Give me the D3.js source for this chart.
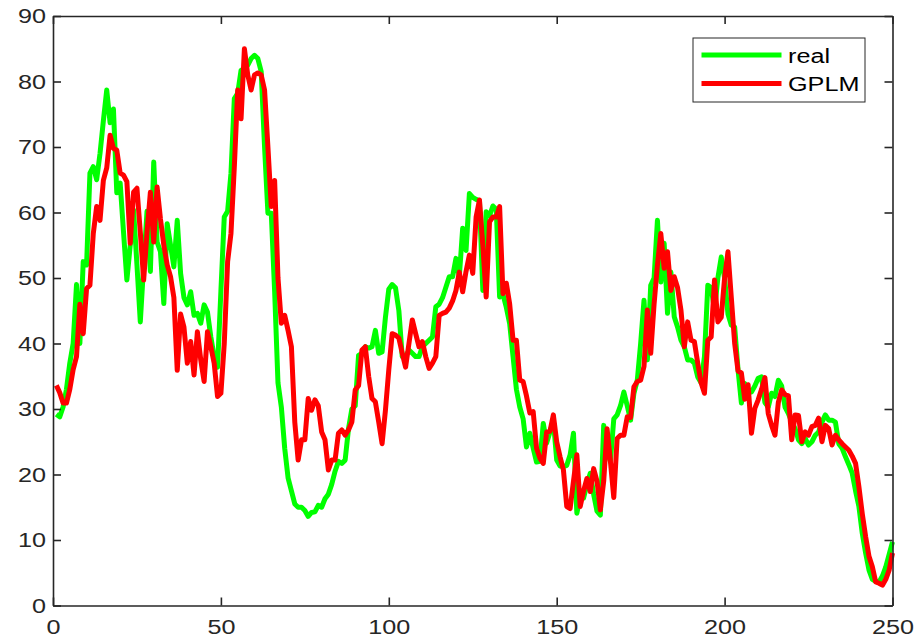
<!DOCTYPE html>
<html>
<head>
<meta charset="utf-8">
<script src="https://cdn.jsdelivr.net/npm/d3@7"></script>
<style>
  html, body { margin: 0; padding: 0; background: #ffffff; }
  svg { display: block; }
</style>
</head>
<body>
<svg id="chart" width="919" height="644"></svg>
<script>
// Sample index (1..250)
const sampleIndex = d3.range(1, 251);

// Observed series
const realValues = [
  29.2, 28.8, 30.3, 33, 37, 40, 49, 40, 52.5, 52,
  66, 67, 65, 69, 74, 78.7, 73.7, 75.8, 63, 64.5,
  57, 49.7, 55, 60.4, 52, 43.3, 52, 60.2, 51, 67.7,
  55.5, 54, 46.1, 58.3, 55, 51.7, 58.8, 50.7, 47, 45.9,
  47.9, 44.3, 44.6, 43.1, 45.9, 44.8, 41, 38, 36.4, 48,
  59.3, 60.2, 66, 77.4, 78.2, 81.7, 82, 82.5, 83.5, 84,
  83.5, 81.5, 70, 59.9, 59.9, 48, 34, 30.3, 24, 19.5,
  17.5, 15.5, 15, 15, 14.5, 13.6, 14.2, 14.3, 15.3, 15,
  16.3, 17, 18.5, 20.5, 22, 21.7, 22.2, 27, 30, 30.5,
  38.2, 38.5, 39.5, 39.3, 39.5, 42, 38.5, 38.7, 44, 48.3,
  49, 48.5, 45, 38, 38, 39, 38.5, 38, 38, 39.5,
  40, 40.5, 41, 45.6, 46, 47, 48.6, 50.2, 50.2, 53,
  50.2, 57.6, 54.2, 62.9, 62.3, 62, 61.8, 48.1, 60.1, 59.5,
  61, 60.5, 47.1, 47.5, 45.5, 43, 38, 33, 30.3, 28.5,
  24.2, 26.3, 24, 21.9, 22, 27.8, 24.8, 26.5, 28.3, 22.2,
  21.3, 21.2, 21.4, 23, 26.3, 14.1, 16.5, 16.4, 18.5, 20.2,
  17, 14.4, 13.8, 27.5, 24, 22, 28.5, 29.1, 30.5, 32.6,
  30.5, 28.3, 32.4, 34.4, 40, 46.6, 37.5, 48.9, 50, 58.8,
  49.4, 55.3, 44.6, 50.9, 44.1, 42.5, 40.5, 39.5, 37.5, 37.5,
  37, 34.9, 34, 38, 48.9, 48.5, 45.1, 50, 53.2, 50,
  44.5, 42.8, 42.5, 36, 30.9, 33.9, 33, 32.6, 33.5, 34.7,
  34.9, 31, 30.3, 32.4, 31.9, 34.4, 33.5, 30.3, 29.3, 28,
  27, 25.3, 24.7, 25.5, 24.5, 25, 26, 26.5, 28, 29.1,
  28.3, 28.3, 28, 24.7, 24, 22.7, 21.5, 20.2, 17.5, 15.1,
  11, 8, 5.4, 4, 3.7, 3.6, 4.5, 5.9, 7.8, 9.7
];

// Model output
const gplmValues = [
  33.6, 32.5, 30.9, 30.9, 33, 36, 38, 46, 41.5, 48.4,
  48.9, 56.8, 60.9, 58.8, 64.9, 66.8, 71.8, 69.8, 69.5, 66,
  65.7, 64.7, 55.3, 63.1, 63.7, 57, 49.7, 57, 63.1, 55.5,
  63.9, 59, 55, 52, 50.2, 47, 35.9, 44.5, 42.5, 37,
  40.3, 35.2, 41.8, 37.5, 34.2, 41.8, 39.5, 37, 31.9, 32.4,
  40, 52.5, 56.8, 67, 78.7, 74.3, 85, 81, 78.7, 81,
  81.3, 81, 78.7, 70, 60.9, 64.9, 50, 43.1, 44.3, 42,
  39.5, 28, 22.2, 25.3, 25.3, 31.6, 29.8, 31.4, 30.5, 26.5,
  25.3, 20.7, 22.2, 22.2, 26.3, 26.8, 26, 26.8, 28, 32.9,
  33.6, 39, 39.5, 35, 31.6, 31.1, 28, 24.7, 29.8, 36,
  41.5, 41.3, 40.8, 38.5, 36.4, 40, 43.6, 41.5, 39.5, 40.3,
  38, 36.2, 37, 38, 44.3, 44.6, 44.8, 45.4, 46.5, 48.1,
  50.9, 47.9, 51, 53.5, 50.7, 59.3, 61.9, 55, 47.1, 58.6,
  59.3, 59.3, 60.9, 47.6, 49.2, 46, 40.5, 40.5, 34.4, 34.2,
  32, 29.4, 29.6, 24, 22.5, 21.7, 26.5, 26.6, 29.1, 25,
  22.7, 20.7, 15.1, 14.8, 19, 23, 15.1, 17.5, 19.4, 17.4,
  20.9, 19, 14.6, 19, 27, 22, 16.5, 25.5, 26, 26,
  28.8, 28.7, 33.4, 34.2, 34.4, 36.5, 45.1, 38.5, 46, 52,
  56.8, 51.5, 54, 48.1, 50.2, 48.5, 45.1, 39.5, 43.3, 40.5,
  40.3, 37, 34, 32.4, 40.5, 41, 49.7, 43.3, 44, 50,
  54, 47, 40, 35.8, 35.5, 31.5, 33.7, 26.3, 30.1, 31.4,
  33, 34.8, 29.3, 27.5, 26, 31, 32.9, 32.2, 32, 25.3,
  29.1, 29, 25, 26.5, 26, 27.3, 27.5, 28.6, 25, 27.5,
  27, 24.5, 26, 25.3, 24.7, 24.2, 23.7, 22.8, 21.7, 18.1,
  14, 10.5, 7.5, 5.9, 3.6, 3.4, 3.1, 4, 5.4, 8
];

const xTickValues = [0, 50, 100, 150, 200, 250];
const yTickValues = [0, 10, 20, 30, 40, 50, 60, 70, 80, 90];

const seriesNames = ["real", "GPLM"];
const seriesColors = ["#00ff00", "#ff0000"];

const svg = d3.select("#chart");
const margin = { left: 53, top: 16, right: 26.5, bottom: 38.5 };
const W = 919 - margin.left - margin.right;
const H = 644 - margin.top - margin.bottom;
const axisColor = "#262626";
const fontFamily = '"Liberation Sans", Arial, Helvetica, sans-serif';
const textWiden = 1.2; // labels are set slightly wide

const xScale = d3.scaleLinear().domain([0, 250]).range([0, W]);
const yScale = d3.scaleLinear().domain([0, 90]).range([H, 0]);

const g = svg.append("g").attr("transform", `translate(${margin.left},${margin.top})`);

const lineGen = d3.line()
  .x((d, i) => xScale(sampleIndex[i]))
  .y(d => yScale(d));

const plotLayer = g.append("g");
[realValues, gplmValues].forEach((vals, k) => {
  plotLayer.append("path")
    .datum(vals)
    .attr("fill", "none")
    .attr("stroke", seriesColors[k])
    .attr("stroke-width", 5)
    .attr("stroke-linejoin", "round")
    .attr("stroke-linecap", "butt")
    .attr("d", lineGen);
});

// Box axes with inward ticks on all four sides
function styleAxis(sel) {
  sel.select(".domain").attr("stroke", axisColor).attr("stroke-width", 1.6);
  sel.selectAll(".tick line").attr("stroke", axisColor).attr("stroke-width", 1.6);
  sel.selectAll(".tick text")
    .attr("fill", axisColor)
    .style("font-family", fontFamily)
    .style("font-size", "21px");
}

const axisB = g.append("g").attr("transform", `translate(0,${H})`)
  .call(d3.axisBottom(xScale).tickValues(xTickValues).tickSizeInner(-8).tickSizeOuter(0).tickPadding(14).tickFormat(d3.format("d")));
styleAxis(axisB);
axisB.selectAll(".tick text").attr("transform", `scale(${textWiden},1)`);

const axisT = g.append("g")
  .call(d3.axisTop(xScale).tickValues(xTickValues).tickSizeInner(-8).tickSizeOuter(0).tickFormat(""));
styleAxis(axisT);

const axisL = g.append("g")
  .call(d3.axisLeft(yScale).tickValues(yTickValues).tickSizeInner(-8).tickSizeOuter(0).tickFormat(d3.format("d")));
styleAxis(axisL);
axisL.selectAll(".tick text")
  .attr("x", -7 / textWiden)
  .attr("transform", `scale(${textWiden},1)`);

const axisR = g.append("g").attr("transform", `translate(${W},0)`)
  .call(d3.axisRight(yScale).tickValues(yTickValues).tickSizeInner(-8).tickSizeOuter(0).tickFormat(""));
styleAxis(axisR);

// Legend
const legend = g.append("g").attr("transform", `translate(${693 - margin.left},${38 - margin.top})`);
legend.append("rect")
  .attr("width", 172).attr("height", 64)
  .attr("fill", "#ffffff")
  .attr("stroke", axisColor).attr("stroke-width", 1);
seriesNames.forEach((name, k) => {
  const cy = 17 + k * 28.5;
  legend.append("line")
    .attr("x1", 8.5).attr("x2", 88.5)
    .attr("y1", cy).attr("y2", cy)
    .attr("stroke", seriesColors[k]).attr("stroke-width", 5);
  legend.append("text")
    .attr("transform", `translate(95,${cy}) scale(${textWiden},1)`)
    .attr("dy", "0.36em")
    .attr("fill", "#000000")
    .style("font-family", fontFamily)
    .style("font-size", "21px")
    .text(name);
});
</script>
</body>
</html>
